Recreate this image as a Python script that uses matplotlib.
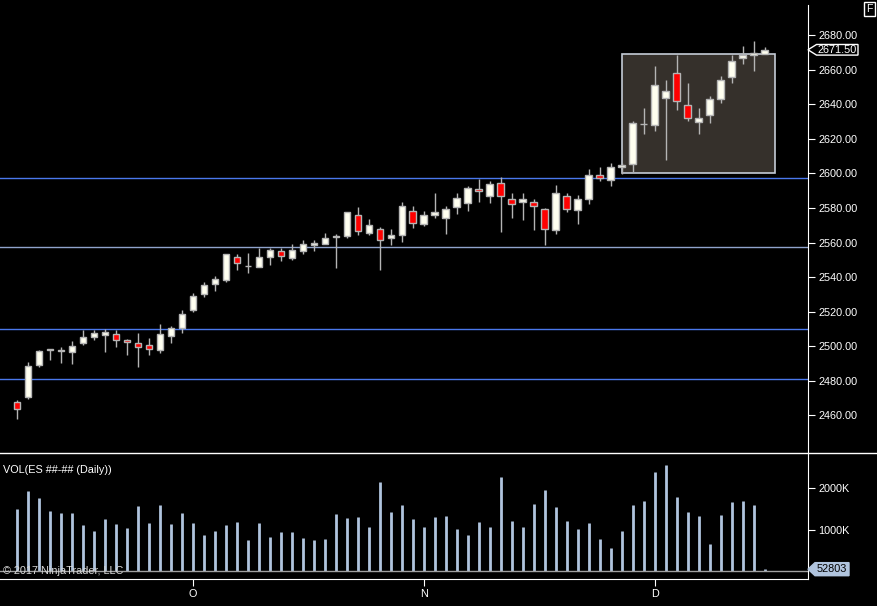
import numpy as np
import matplotlib
matplotlib.use('Agg')
import matplotlib.pyplot as plt
from matplotlib.patches import Rectangle, Polygon
from matplotlib.lines import Line2D

plt.rcParams['font.family'] = ['Liberation Sans', 'DejaVu Sans']

# daily ES bars
opens = [2467.9, 2470.6, 2489.4, 2498.0, 2497.5, 2496.7, 2501.9, 2505.4, 2506.5, 2507.3,
         2503.8, 2502.1, 2500.9, 2497.8, 2506.1, 2510.6, 2521.2, 2530.5, 2536.1, 2538.4,
         2551.9, 2546.3, 2546.1, 2551.7, 2555.4, 2551.3, 2555.4, 2558.8, 2559.4, 2563.3,
         2564.0, 2576.2, 2565.8, 2567.9, 2562.9, 2564.6, 2578.3, 2571.0, 2576.2, 2574.4,
         2580.8, 2583.1, 2591.2, 2587.2, 2594.7, 2585.4, 2583.7, 2583.7, 2579.6, 2567.3,
         2587.2, 2579.1, 2585.4, 2598.8, 2596.4, 2604.0, 2605.7, 2628.5, 2628.1, 2643.9,
         2657.8, 2639.3, 2630.0, 2633.5, 2642.8, 2655.5, 2666.5, 2668.2, 2669.2]
highs = [2468.7, 2490.7, 2498.0, 2498.6, 2499.4, 2503.2, 2509.2, 2509.2, 2510.0, 2509.2,
         2504.0, 2507.5, 2504.6, 2512.7, 2511.5, 2520.8, 2531.0, 2537.0, 2540.9, 2553.6,
         2553.2, 2553.8, 2557.1, 2556.9, 2556.9, 2559.0, 2561.3, 2561.3, 2565.4, 2565.0,
         2577.9, 2580.4, 2573.5, 2569.3, 2568.1, 2583.7, 2581.4, 2578.5, 2588.9, 2581.4,
         2588.9, 2593.0, 2596.6, 2595.9, 2597.8, 2588.9, 2588.9, 2585.4, 2580.2, 2593.2,
         2588.9, 2587.4, 2602.5, 2603.6, 2606.3, 2606.3, 2630.2, 2637.7, 2662.1, 2654.3,
         2668.6, 2652.2, 2637.7, 2644.5, 2656.1, 2668.6, 2673.6, 2676.5, 2673.1]
lows = [2457.9, 2469.5, 2488.0, 2491.9, 2490.3, 2489.7, 2500.9, 2503.6, 2496.7, 2499.6,
        2494.8, 2487.8, 2494.8, 2496.1, 2501.9, 2507.7, 2519.8, 2528.5, 2532.0, 2537.2,
        2544.0, 2542.4, 2546.1, 2546.9, 2549.2, 2549.8, 2553.4, 2555.2, 2559.4, 2545.3,
        2562.7, 2564.4, 2564.6, 2544.2, 2558.6, 2560.4, 2568.7, 2569.8, 2574.2, 2565.2,
        2576.6, 2578.5, 2583.5, 2583.0, 2566.2, 2574.2, 2573.1, 2567.3, 2558.6, 2565.0,
        2577.7, 2570.8, 2582.6, 2595.7, 2592.8, 2599.9, 2600.9, 2622.9, 2624.6, 2607.8,
        2636.8, 2630.4, 2622.9, 2629.2, 2640.8, 2652.4, 2663.4, 2659.4, 2669.2]
closes = [2463.7, 2488.8, 2497.5, 2498.0, 2497.5, 2500.4, 2505.6, 2507.9, 2508.5, 2503.8,
          2502.7, 2499.8, 2498.6, 2507.3, 2510.8, 2518.9, 2529.3, 2535.7, 2539.1, 2553.2,
          2548.4, 2546.3, 2551.9, 2555.9, 2552.3, 2555.9, 2559.4, 2560.0, 2562.9, 2563.3,
          2577.4, 2566.9, 2570.4, 2561.7, 2564.6, 2581.4, 2571.5, 2576.2, 2577.7, 2579.6,
          2586.0, 2591.8, 2590.1, 2594.1, 2587.2, 2582.6, 2585.4, 2581.4, 2567.9, 2588.4,
          2579.6, 2585.4, 2599.3, 2597.6, 2604.0, 2605.1, 2629.4, 2628.5, 2651.4, 2647.4,
          2641.6, 2631.8, 2632.3, 2642.8, 2654.3, 2665.3, 2668.4, 2669.4, 2671.5]
# volume in thousands
volume = [1488, 1920, 1752, 1440, 1392, 1392, 1104, 960, 1248, 1128,
          1032, 1560, 1152, 1584, 1128, 1392, 1152, 864, 960, 1104,
          1176, 744, 1152, 816, 936, 936, 792, 744, 768, 1368,
          1272, 1296, 1056, 2136, 1416, 1584, 1248, 1056, 1296, 1320,
          1008, 864, 1176, 1056, 2256, 1200, 1056, 1608, 1944, 1536,
          1200, 1008, 1152, 768, 552, 960, 1584, 1680, 2376, 2544,
          1776, 1416, 1320, 648, 1344, 1656, 1680, 1584, 52.8]

month_idx = [16, 37, 58]
month_labels = ['O', 'N', 'D']
hlines_blue = [2597.2, 2510.1, 2481.1]
hline_gray = 2557.3
box_x = [55.05, 68.96]
box_y = [2600.5, 2668.8]
last_price = 2671.50
last_vol = 52803

W, H = 877, 606
fig = plt.figure(figsize=(W / 100, H / 100), dpi=100, facecolor='black')

def frac(l, t, r, b):
    return [l / W, 1 - b / H, (r - l) / W, (b - t) / H]

ax = fig.add_axes(frac(0, 5, 808, 452.5))
axv = fig.add_axes(frac(0, 452.5, 808, 579), sharex=ax)

fg = 'white'
edge = '#b4b4b4'
fs = 7.8
x = np.arange(len(opens))
o = np.array(opens); c = np.array(closes)

for a in (ax, axv):
    a.set_facecolor('black')
    for s in ('top', 'left'):
        a.spines[s].set_visible(False)
    a.spines['right'].set_color(fg)
    a.yaxis.tick_right()
    a.tick_params(axis='y', colors=fg, labelsize=fs, length=5, pad=2.5)

ax.spines['bottom'].set_visible(False)
axv.spines['bottom'].set_color(fg)

# horizontal levels and drawn box
for lv in hlines_blue:
    ax.axhline(lv, color='#4a78ec', lw=1, zorder=1)
ax.axhline(hline_gray, color='#8fa3cc', lw=1, zorder=1)
ax.add_patch(Rectangle((box_x[0], box_y[0]), box_x[1] - box_x[0], box_y[1] - box_y[0],
                       facecolor='#35302b', edgecolor='#c4ccd6', lw=1.2, zorder=1))

# candles
ax.vlines(x, lows, highs, color=edge, lw=1, zorder=2)
up = c >= o
body = np.maximum(np.abs(c - o), 0.35)
ax.bar(x, body, bottom=np.minimum(o, c), width=0.58,
       color=np.where(up, '#fffff0', '#ff0000'), edgecolor=edge, lw=1, zorder=3)

ax.set_ylim(2438.6, 2697.4)
ax.set_xlim(-1.52, 71.94)
ax.set_yticks(np.arange(2460, 2681, 20))
ax.set_yticklabels([f'{v:.2f}' for v in np.arange(2460, 2681, 20)])
ax.tick_params(axis='x', bottom=False, labelbottom=False)

# last price marker
tx = 8.5 / 808
bw = 50 / 808
hh = 5.3 / 1.7273
ax.add_patch(Polygon([(1.0, last_price), (1.0 + tx, last_price + hh), (1.0 + bw, last_price + hh),
                      (1.0 + bw, last_price - hh), (1.0 + tx, last_price - hh)],
                     closed=True, transform=ax.get_yaxis_transform(), facecolor='black',
                     edgecolor=fg, lw=1, clip_on=False, zorder=5))
ax.text(1.0 + 9.5 / 808, last_price, f'{last_price:.2f}', transform=ax.get_yaxis_transform(),
        color=fg, fontsize=fs, va='center', ha='left', clip_on=False, zorder=6)

# volume panel
axv.vlines(x, 0, volume, color='#b0c4de', lw=2)
axv.axhline(0, color='#a0a0a0', lw=1)
axv.set_ylim(-182, 2840)
axv.set_yticks([1000, 2000])
axv.set_yticklabels(['1000K', '2000K'])
axv.set_xticks(month_idx)
axv.set_xticklabels(month_labels)
axv.tick_params(axis='x', colors=fg, labelsize=fs, length=5, pad=2.5)

vh = 6.5 / 41.7 * 1000
axv.add_patch(Polygon([(1.0, last_vol / 1000), (1.0 + 7 / 808, last_vol / 1000 + vh),
                       (1.0 + 41 / 808, last_vol / 1000 + vh), (1.0 + 41 / 808, last_vol / 1000 - vh),
                       (1.0 + 7 / 808, last_vol / 1000 - vh)],
                      closed=True, transform=axv.get_yaxis_transform(), facecolor='#b0c4de',
                      edgecolor='#b0c4de', clip_on=False, zorder=5))
axv.text(1.0 + 8.5 / 808, last_vol / 1000, str(last_vol), transform=axv.get_yaxis_transform(),
         color='black', fontsize=fs, va='center', ha='left', clip_on=False, zorder=6)

axv.text(3 / 808, 0.86, 'VOL(ES ##-## (Daily))', transform=axv.transAxes,
         color=fg, fontsize=fs, va='center', ha='left')
axv.text(3 / 808, 0.06, '\u00a9 2017 NinjaTrader, LLC', transform=axv.transAxes,
         color='#d8d8d8', fontsize=fs, va='center', ha='left', zorder=6)

# panel separator across the full width
fig.add_artist(Line2D([0, 1], [1 - 452.5 / H] * 2, color=fg, lw=1, transform=fig.transFigure))

# 'F' button top right
fig.text(869.5 / W, 1 - 9 / H, 'F', color=fg, fontsize=7.5, ha='center', va='center',
         bbox=dict(boxstyle='square,pad=0.2', facecolor='black', edgecolor=fg, lw=1))

fig.savefig('out.png', dpi=100, facecolor='black')
